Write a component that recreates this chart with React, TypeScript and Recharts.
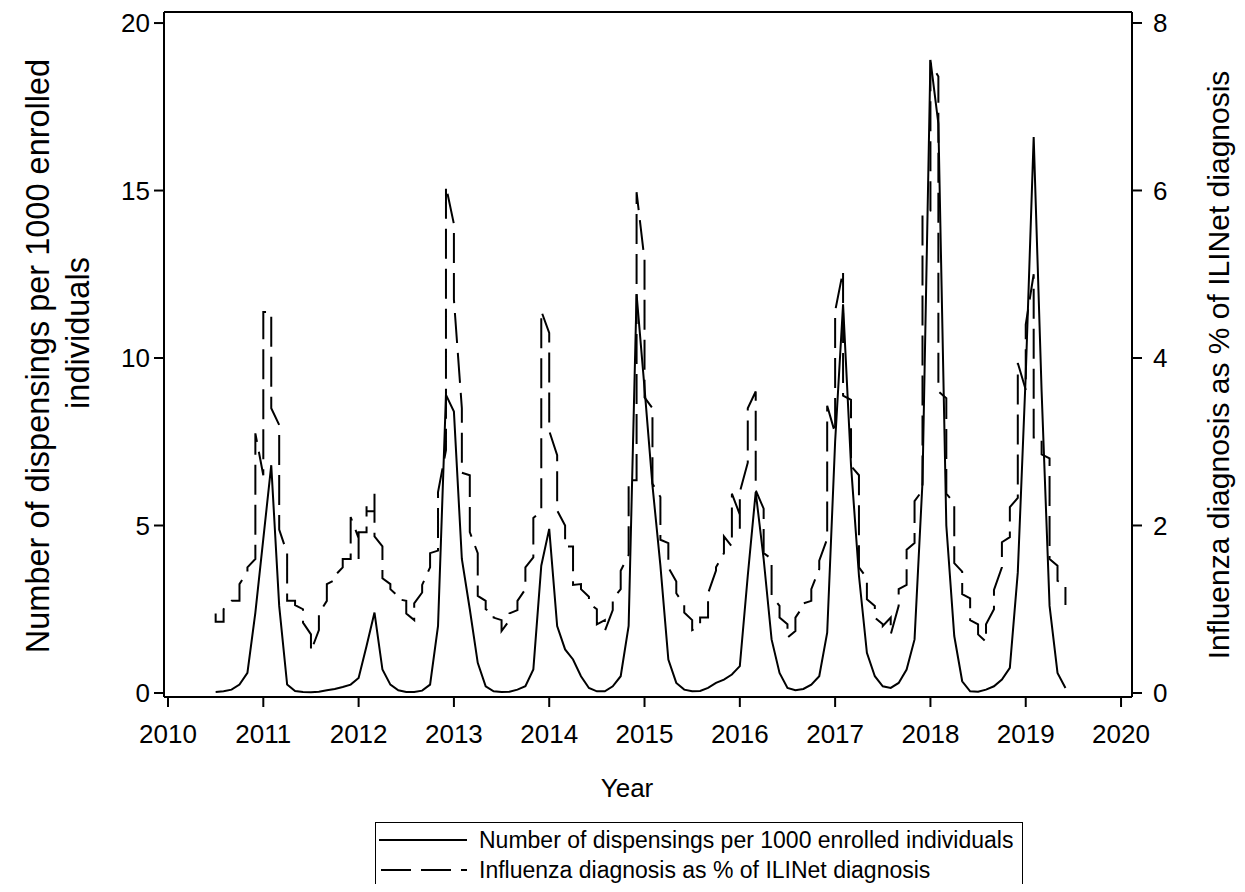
import React from "react";
import { LineChart, Line, XAxis, YAxis, ReferenceLine } from "recharts";

const FONT = '"Liberation Sans", Arial, Helvetica, sans-serif';

const yearTicks = [2010, 2011, 2012, 2013, 2014, 2015, 2016, 2017, 2018, 2019, 2020];
const leftTicks = [0, 5, 10, 15, 20];
const rightTicks = [0, 2, 4, 6, 8];
const firstMonth = 2010 + 6 / 12; // July 2010

// dispensings per 1000 enrolled, one value per month, July..June
const disp2010 = [0.03, 0.05, 0.1, 0.25, 0.6, 2.4, 4.6, 6.8, 2.6, 0.25, 0.06, 0.03];
const disp2011 = [0.02, 0.04, 0.08, 0.12, 0.18, 0.25, 0.45, 1.4, 2.4, 0.7, 0.25, 0.08];
const disp2012 = [0.03, 0.03, 0.07, 0.25, 2.0, 8.9, 8.4, 4.0, 2.5, 0.9, 0.2, 0.05];
const disp2013 = [0.03, 0.04, 0.1, 0.2, 0.7, 3.8, 4.9, 2.0, 1.3, 1.0, 0.5, 0.15];
const disp2014 = [0.05, 0.05, 0.2, 0.5, 2.0, 11.9, 9.1, 6.2, 3.8, 1.0, 0.3, 0.1];
const disp2015 = [0.05, 0.06, 0.15, 0.3, 0.4, 0.55, 0.8, 3.5, 6.0, 4.0, 1.6, 0.6];
const disp2016 = [0.15, 0.08, 0.12, 0.25, 0.5, 1.8, 7.5, 11.6, 6.8, 3.5, 1.2, 0.5];
const disp2017 = [0.2, 0.15, 0.3, 0.7, 1.6, 6.3, 18.9, 17.0, 5.0, 1.7, 0.35, 0.05];
const disp2018 = [0.04, 0.1, 0.2, 0.4, 0.75, 3.6, 9.5, 16.6, 9.0, 2.6, 0.6, 0.15];

// influenza % of ILINet, weekly values grouped by month, July..June
const ili2010 = [
  [0.95, 0.85], [0.85, 1.0], [1.1, 1.1], [1.1, 1.3], [1.45, 1.5], [1.6, 1.9, 3.1],
  [2.6, 4.55], [4.55, 3.4], [3.2, 1.95], [1.67, 1.1], [1.1, 1.05], [1.0, 0.84],
];
const ili2011 = [
  [0.7, 0.5], [0.75, 0.95], [1.1, 1.3], [1.35, 1.4], [1.5, 1.6], [1.6, 2.1],
  [1.85, 1.6, 1.92], [1.92, 2.23, 2.17], [2.17, 2.38, 1.87], [1.75, 1.37], [1.3, 1.24], [1.15, 1.12],
];
const ili2012 = [
  [1.1, 0.95], [0.87, 1.07], [1.2, 1.29], [1.5, 1.67], [1.7, 2.4], [2.9, 3.8, 6.05],
  [5.6, 4.7], [3.4, 2.63], [2.6, 1.92], [1.67, 1.16], [1.1, 1.0], [0.95, 0.9],
];
const ili2013 = [
  [0.87, 0.74], [0.87, 0.95], [0.99, 1.1], [1.24, 1.5], [1.62, 2.09], [2.17, 4.56],
  [4.3, 3.13], [2.84, 2.18], [2.0, 1.75], [1.75, 1.29], [1.3, 1.24], [1.15, 1.07],
];
const ili2014 = [
  [1.0, 0.82], [0.87, 0.74], [0.99, 1.12], [1.24, 1.46], [1.65, 2.54], [2.54, 5.98],
  [5.17, 3.53], [3.4, 2.5], [2.34, 1.83], [1.79, 1.5], [1.33, 1.19], [1.05, 0.96],
];
const ili2015 = [
  [0.87, 0.75], [0.8, 0.9], [0.9, 1.19], [1.46, 1.5], [1.67, 1.87], [1.75, 2.38],
  [2.13, 1.96, 2.4], [2.75, 3.4], [3.6, 2.42], [2.2, 1.67], [1.6, 1.16], [1.04, 0.9],
];
const ili2016 = [
  [0.82, 0.66], [0.74, 0.9], [1.04, 1.07], [1.1, 1.24], [1.48, 1.58], [1.84, 1.9, 3.43],
  [3.1, 4.56], [5.04, 3.55], [3.5, 2.71], [2.6, 1.5], [1.37, 1.12], [1.04, 0.9],
];
const ili2017 = [
  [0.82, 0.8], [0.9, 0.7], [1.04, 1.24], [1.29, 1.71], [1.79, 2.29], [2.42, 5.73],
  [5.76, 7.52], [7.36, 3.6], [3.52, 2.38], [2.27, 1.55], [1.45, 1.18], [1.13, 0.87],
];
const ili2018 = [
  [0.82, 0.7], [0.61, 0.82], [1.0, 1.23], [1.5, 1.8], [1.86, 2.22], [2.33, 3.94],
  [3.62, 4.4], [5.0, 4.45, 3.05], [3.05, 2.85], [2.8, 1.6], [1.52, 1.34], [1.3, 1.05],
];

const dispSeasons = [disp2010, disp2011, disp2012, disp2013, disp2014, disp2015, disp2016, disp2017, disp2018];
const iliSeasons = [ili2010, ili2011, ili2012, ili2013, ili2014, ili2015, ili2016, ili2017, ili2018];

const dispData = dispSeasons.flat().map((v, i) => ({ t: firstMonth + i / 12, disp: v }));
const iliData = iliSeasons
  .flat()
  .flatMap((weeks, i) => weeks.map((v) => ({ t: firstMonth + i / 12, ili: v })));

const DASH = "30 10";

const LeftTitle = () => (
  <text
    transform="rotate(-90)"
    textAnchor="middle"
    dominantBaseline="central"
    fontFamily={FONT}
    fontSize={32.5}
    fill="#000"
  >
    <tspan x={-348} y={30}>Number of dispensings per 1000 enrolled</tspan>
    <tspan x={-325} y={70}>individuals</tspan>
  </text>
);

const RightTitle = () => (
  <text
    transform="translate(1210,357) rotate(-90)"
    textAnchor="middle"
    dominantBaseline="central"
    fontFamily={FONT}
    fontSize={30}
    fill="#000"
  >
    Influenza diagnosis as % of ILINet diagnosis
  </text>
);

const XTitle = () => (
  <text x={619} y={780} textAnchor="middle" dominantBaseline="central" fontFamily={FONT} fontSize={26} fill="#000">
    Year
  </text>
);

const axisLine = { stroke: "#000", strokeWidth: 2 };
const tickStyle = { fill: "#000", fontSize: 26, fontFamily: FONT };

const LegendBox = () => (
  <div
    style={{
      position: "absolute",
      left: 367,
      top: 814,
      width: 646,
      height: 64,
      border: "1.5px solid #000",
      fontFamily: FONT,
      fontSize: 23,
      color: "#000",
    }}
  >
    <div style={{ position: "absolute", left: 3, top: 2, height: 30, display: "flex", alignItems: "center" }}>
      <svg width={88} height={6} style={{ marginRight: 12 }}>
        <line x1={0} y1={3} x2={88} y2={3} stroke="#000" strokeWidth={2} />
      </svg>
      <span>Number of dispensings per 1000 enrolled individuals</span>
    </div>
    <div style={{ position: "absolute", left: 3, top: 32, height: 30, display: "flex", alignItems: "center" }}>
      <svg width={88} height={6} style={{ marginRight: 12 }}>
        <line x1={2} y1={3} x2={88} y2={3} stroke="#000" strokeWidth={2} strokeDasharray={DASH} />
      </svg>
      <span>Influenza diagnosis as % of ILINet diagnosis</span>
    </div>
  </div>
);

export default function App() {
  return (
    <div style={{ position: "relative", width: 1229, height: 876, background: "#fff" }}>
      <LineChart width={1229} height={810} margin={{ top: 4, right: 0, bottom: 0, left: 0 }}>
        <XAxis
          type="number"
          dataKey="t"
          domain={[2009.958, 2020.115]}
          ticks={yearTicks}
          interval={0}
          allowDataOverflow
          height={121}
          tickSize={10}
          tickMargin={18}
          tick={tickStyle}
          axisLine={axisLine}
          tickLine={axisLine}
          label={<XTitle />}
        />
        <YAxis
          yAxisId="left"
          domain={[-0.12, 20.33]}
          ticks={leftTicks}
          interval={0}
          allowDataOverflow
          width={156}
          tickSize={10}
          tickMargin={4}
          tick={tickStyle}
          axisLine={axisLine}
          tickLine={axisLine}
          label={<LeftTitle />}
        />
        <YAxis
          yAxisId="right"
          orientation="right"
          domain={[-0.048, 8.131]}
          ticks={rightTicks}
          interval={0}
          allowDataOverflow
          width={105}
          tickSize={10}
          tickMargin={11}
          tick={tickStyle}
          axisLine={axisLine}
          tickLine={axisLine}
          label={<RightTitle />}
        />
        <ReferenceLine yAxisId="left" y={20.33} stroke="#000" strokeWidth={2} />
        <Line
          yAxisId="left"
          data={dispData}
          dataKey="disp"
          type="linear"
          stroke="#000"
          strokeWidth={2}
          dot={false}
          activeDot={false}
          isAnimationActive={false}
        />
        <Line
          yAxisId="right"
          data={iliData}
          dataKey="ili"
          type="linear"
          stroke="#000"
          strokeWidth={2}
          strokeDasharray={DASH}
          dot={false}
          activeDot={false}
          isAnimationActive={false}
        />
      </LineChart>
      <LegendBox />
    </div>
  );
}
